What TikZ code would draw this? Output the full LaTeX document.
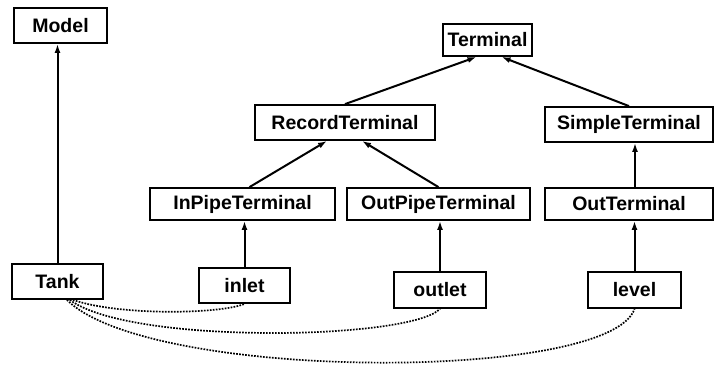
\documentclass[tikz,border=0pt]{standalone}
\usepackage{fontspec}
\setsansfont{Liberation Sans}
\usetikzlibrary{positioning, arrows, arrows.meta, calc}
\tikzset{
    cls/.style={draw, line width=1.8pt, inner sep=0pt, minimum height=35pt,
                font=\sffamily\bfseries\fontsize{19.5}{22}\selectfont},
    link/.style={-, line width=1.7pt, dash pattern=on 1.7pt off 1.3pt},
}

\begin{document}
\begin{tikzpicture}[x=1pt, y=-1pt, line width=2pt]
    \tikzset{
      ->,
      >={Latex[length=9pt, width=6pt]}
    }
    \useasboundingbox (0,0) rectangle (715,365);

    % class hierarchy
    \node[cls, minimum width=93pt] (model) at (60.5,25.5) {Model};
    \node[cls, minimum width=89pt, minimum height=32pt] (terminal) at (487.5,40) {Terminal};
    \node[cls, minimum width=180pt] (record) at (345,122.5) {RecordTerminal};
    \node[cls, minimum width=168pt] (simple) at (629,124.5) {SimpleTerminal};
    \node[cls, minimum width=185pt, minimum height=32pt] (inpipe) at (242.5,204) {InPipeTerminal};
    \node[cls, minimum width=183pt, minimum height=32pt] (outpipe) at (438.5,204) {OutPipeTerminal};
    \node[cls, minimum width=168pt, minimum height=32pt] (outterm) at (629,204) {OutTerminal};

    % instances
    \node[cls, minimum width=91pt] (tank) at (57.5,281.5) {Tank};
    \node[cls, minimum width=91pt] (inlet) at (244.5,285.5) {inlet};
    \node[cls, minimum width=92pt, minimum height=36pt] (outlet) at (440,290) {outlet};
    \node[cls, minimum width=93pt, minimum height=36pt] (level) at (634.5,290) {level};

    \draw (tank.north) -- (tank.north |- model.south);
    \draw (inlet.north) -- (inlet.north |- inpipe.south);
    \draw (outlet.north) -- (outlet.north |- outpipe.south);
    \draw (level.north) -- (level.north |- outterm.south);
    \draw ($(outterm.north)+(6,0)$) -- ($(simple.south)+(6,0)$);

    \draw ($(inpipe.north)+(7,0)$) -- ($(record.south)+(-18,0)$);
    \draw (outpipe.north) -- ($(record.south)+(17,0)$);
    \draw (record.north) -- ($(terminal.south)+(-11,0)$);
    \draw (simple.north) -- ($(terminal.south)+(14,0)$);

    % parts of Tank
    \draw[link] (tank.-50) .. controls (120,316) and (220,314) .. (inlet.south);
    \draw[link] (tank.-56) .. controls (130,345) and (410,340) .. (outlet.south);
    \draw[link] (tank.-63) .. controls (150,382) and (610,382) .. (level.south);
\end{tikzpicture}
\end{document}
